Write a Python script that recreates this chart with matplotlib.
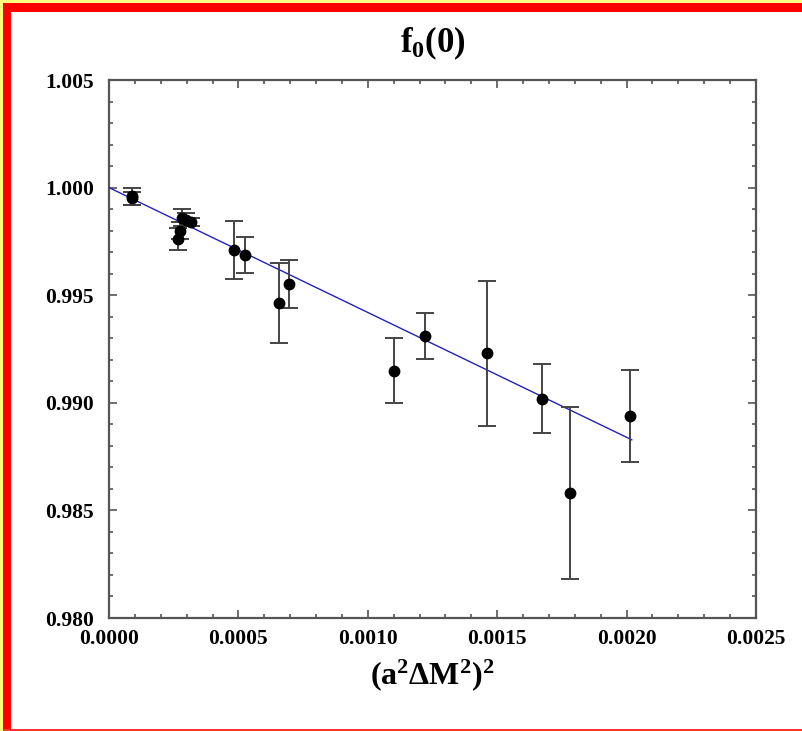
import numpy as np
import matplotlib.pyplot as plt
from matplotlib.patches import Rectangle

# data
x_val = [0.00009, 0.00009, 0.000265, 0.000275, 0.000283, 0.000297, 0.000315,
         0.000483, 0.000526, 0.000657, 0.000695, 0.00110, 0.00122,
         0.00146, 0.001673, 0.001781, 0.002013]
y_val = [0.9996, 0.9995, 0.9976, 0.9980, 0.9986, 0.9985, 0.9984,
         0.9971, 0.99688, 0.99462, 0.99551, 0.99149, 0.99310,
         0.99231, 0.99019, 0.98579, 0.98940]
y_err = [0.0004, 0.0003, 0.0005, 0.0004, 0.0004, 0.0003, 0.0002,
         0.00136, 0.00083, 0.00186, 0.00112, 0.0015, 0.00107,
         0.00337, 0.0016, 0.0040, 0.00213]
fit_x = [0.0, 0.00202]
fit_y = [1.0000, 0.98828]

plt.rcParams['font.family'] = ['Liberation Serif', 'DejaVu Serif']
plt.rcParams['font.weight'] = 'bold'
plt.rcParams['mathtext.fontset'] = 'custom'
plt.rcParams['mathtext.rm'] = 'Liberation Serif:bold'
plt.rcParams['mathtext.bf'] = 'Liberation Serif:bold'
plt.rcParams['mathtext.it'] = 'Liberation Serif:bold'

W, H = 802, 731
fig = plt.figure(figsize=(W / 100, H / 100), dpi=100)
fig.patch.set_facecolor('white')

# page frame (yellow + red)
def px_rect(x0, y0, x1, y1, c):
    fig.patches.append(Rectangle((x0 / W, 1 - y1 / H), (x1 - x0) / W, (y1 - y0) / H,
                                 transform=fig.transFigure, facecolor=c,
                                 edgecolor='none', zorder=-5))

px_rect(0, 0, W, 3.5, '#ffff80')
px_rect(0, 0, 3.5, H, '#ffff80')
px_rect(3.5, 3.5, W, 12, '#ff0000')
px_rect(3.5, 3.5, 11, H, '#ff0000')
px_rect(3.5, 728.5, W, H, '#ff3030')

ax = fig.add_axes([109 / W, 1 - 618 / H, 647 / W, 538 / H])

ax.plot(fit_x, fit_y, color='#2222bb', lw=1.0, zorder=3)
ax.errorbar(x_val, y_val, yerr=y_err, fmt='o', color='black', ms=7.5,
            ecolor='#444444', elinewidth=1.4, capsize=6.5, capthick=1.4, zorder=4)

ax.set_xlim(0, 0.0025)
ax.set_ylim(0.980, 1.005)
ax.set_xticks(np.arange(0, 0.00251, 0.0005))
ax.set_xticks(np.arange(0, 0.00251, 0.0001), minor=True)
ax.set_yticks(np.arange(0.980, 1.00501, 0.005))
ax.set_yticks(np.arange(0.980, 1.00501, 0.001), minor=True)
ax.set_xticklabels(['%.4f' % v for v in np.arange(0, 0.00251, 0.0005)])
ax.set_yticklabels(['%.3f' % v for v in np.arange(0.980, 1.00501, 0.005)])

ax.tick_params(which='both', direction='in', top=True, right=True,
               color='#555555', width=1.2, labelsize=15.5)
ax.tick_params(which='major', length=6)
ax.tick_params(which='minor', length=3)
ax.tick_params(axis='x', pad=8)
ax.tick_params(axis='y', pad=11)
for s in ax.spines.values():
    s.set_color('#555555')
    s.set_linewidth(1.6)

ax.set_title(r'f$_0$(0)', fontsize=25, fontweight='bold', pad=20)
ax.set_xlabel(r'(a$^2\Delta$M$^2$)$^2$', fontsize=23, fontweight='bold', labelpad=6)

fig.savefig('out.png', dpi=100)
